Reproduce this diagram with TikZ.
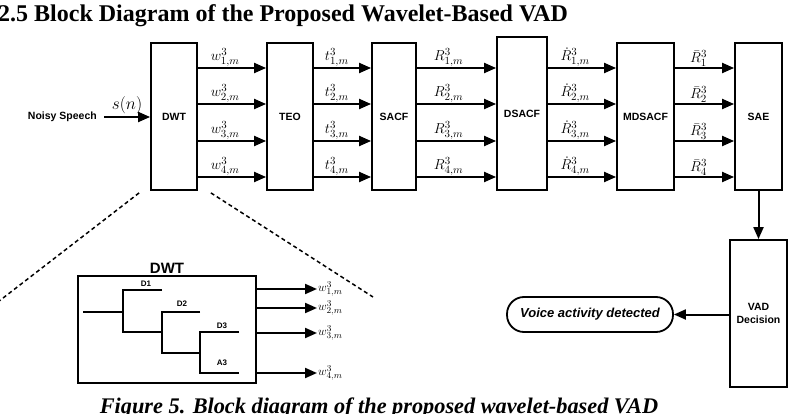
\documentclass[tikz,border=0pt]{standalone}
\usepackage{fontspec}
\setmainfont{Liberation Serif}
\setsansfont{Liberation Sans}
\usetikzlibrary{arrows.meta,positioning,calc}

\begin{document}
\begin{tikzpicture}[
    x=1pt, y=-1pt,
    >={Triangle[length=12pt,width=10pt]},
    block/.style={draw, line width=1.8pt, fill=white, align=center, inner sep=0pt, font=\sffamily\bfseries\fontsize{10.5}{12.5}\selectfont},
    signal/.style={->, line width=2pt},
    sublbl/.style={font=\fontsize{15}{17}\selectfont, inner sep=0.5pt, above=0pt, pos=0.4},
    outlbl/.style={font=\fontsize{12.5}{14}\selectfont, inner sep=1pt, anchor=west},
    treeline/.style={line width=1.6pt},
    bandlbl/.style={font=\sffamily\bfseries\fontsize{8}{9}\selectfont, inner sep=1pt},
    zoomline/.style={line width=1.5pt, dash pattern=on 4pt off 3pt}
]
\useasboundingbox (0,0) rectangle (792,414);

% Heading and caption
\node[anchor=base west, inner sep=0pt, font=\bfseries\fontsize{24}{28}\selectfont] (title) at (-2,22) {2.5 Block Diagram of the Proposed Wavelet-Based VAD};
\node[anchor=base, inner sep=0pt, font=\bfseries\itshape\fontsize{22.3}{26}\selectfont] (caption) at (379,413) {Figure 5. Block diagram of the proposed wavelet-based VAD};

% ==================== PROCESSING CHAIN ====================
\node[block, minimum width=46, minimum height=147] (dwt) at (174,116.5) {DWT};
\node[block, minimum width=46, minimum height=147] (teo) at (290,116.5) {TEO};
\node[block, minimum width=44, minimum height=147] (sacf) at (394,116.5) {SACF};
\node[block, minimum width=50, minimum height=153] (dsacf) at (522,113.5) {DSACF};
\node[block, minimum width=57, minimum height=147] (mdsacf) at (645.5,116.5) {MDSACF};
\node[block, minimum width=47, minimum height=147] (sae) at (758.5,116.5) {SAE};
\node[block, minimum width=57, minimum height=147] (vad) at (758.5,313.5) {VAD\\Decision};
\node[draw, line width=1.8pt, rounded corners=17pt, minimum width=166, minimum height=35, inner sep=0pt,
      font=\sffamily\bfseries\itshape\fontsize{13}{15}\selectfont] (voice) at (590,314.5) {Voice activity detected};

% rows of the four sub-band signals
\coordinate (r1) at (0,68);
\coordinate (r2) at (0,104);
\coordinate (r3) at (0,141);
\coordinate (r4) at (0,177);

% ==================== INTERCONNECT ====================

% Noisy speech input
\node[font=\sffamily\bfseries\fontsize{10.5}{12}\selectfont, anchor=east, inner xsep=7pt, inner ysep=1pt] (noisy) at (104,117) {Noisy Speech};
\draw[signal] (noisy.east) -- node[above=2pt, inner sep=0pt, font=\fontsize{17}{19}\selectfont] {$s(n)$} (noisy.east -| dwt.west);

% sub-band connections between stages
\foreach \i in {1,...,4} {
    \draw[signal] (dwt.east |- r\i) -- node[sublbl] {$w^3_{\i,m}$} (teo.west |- r\i);
    \draw[signal] (teo.east |- r\i) -- node[sublbl] {$t^3_{\i,m}$} (sacf.west |- r\i);
    \draw[signal] (sacf.east |- r\i) -- node[sublbl] {$R^3_{\i,m}$} (dsacf.west |- r\i);
    \draw[signal] (dsacf.east |- r\i) -- node[sublbl] {$\dot{R}^3_{\i,m}$} (mdsacf.west |- r\i);
    \draw[signal] (mdsacf.east |- r\i) -- node[sublbl] {$\bar{R}^3_{\i}$} (sae.west |- r\i);
}

% decision path
\draw[signal] (sae.south) -- (vad.north);
\draw[signal] (vad.west |- voice) -- (voice.east);

% ==================== DWT DETAIL ====================
\coordinate (zoomL) at (-6,305);
\coordinate (zoomR) at (373,297);
\draw[zoomline] ($(dwt.south west)+(-11,2)$) -- (zoomL);
\draw[zoomline] ($(dwt.south east)+(13,2)$) -- (zoomR);

\node[block, minimum width=178, minimum height=107,
      label={[font=\sffamily\bfseries\fontsize{15}{17}\selectfont, inner sep=1pt]above:DWT}] (dwtin) at (167,329.5) {};

% filter-bank tree
\draw[treeline] (83,312) -- (123,312);
\draw[treeline] (162,290) -- (123,290) -- (123,332) -- (162,332);
\draw[treeline] (200,312) -- (162,312) -- (162,353) -- (200,353);
\draw[treeline] (239,332) -- (200,332) -- (200,373) -- (239,373);
\node[bandlbl] (d1) at (146,284) {D1};
\node[bandlbl] (d2) at (182,304) {D2};
\node[bandlbl] (d3) at (222,326) {D3};
\node[bandlbl] (a3) at (222,363) {A3};

% detail outputs
\foreach \i/\y in {1/289,2/308,3/333,4/373} {
    \node[outlbl] (o\i) at (317,\y) {$w^3_{\i,m}$};
    \draw[signal] (dwtin.east |- o\i) -- (o\i.west);
}

\end{tikzpicture}
\end{document}
